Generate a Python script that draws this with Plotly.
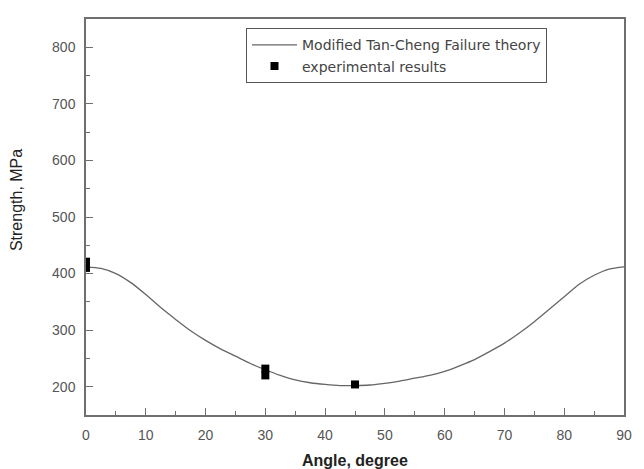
import plotly.graph_objects as go

# Modified Tan-Cheng failure theory curve
theory_angle = [0, 2.5, 5, 7.5, 10, 12.5, 15, 17.5, 20, 22.5, 25, 27.5, 30, 32.5, 35, 37.5, 40, 42.5, 45,
                47.5, 50, 52.5, 55, 57.5, 60, 62.5, 65, 67.5, 70, 72.5, 75, 77.5, 80, 82.5, 85, 87.5, 90]
theory_strength = [412, 409, 400, 384, 363, 340, 319, 299, 282, 267, 254, 241, 230, 220, 212, 207, 204, 202, 202,
                   203, 206, 210, 215, 220, 227, 237, 248, 262, 277, 295, 315, 337, 359, 381, 397, 408, 412]

# Experimental results
exp_angle = [0, 0, 30, 30, 45]
exp_strength = [410, 421, 220, 232, 204]

x_ticks = [0, 10, 20, 30, 40, 50, 60, 70, 80, 90]
y_ticks = [200, 300, 400, 500, 600, 700, 800]

FONT = "Liberation Sans, Arial, sans-serif"
AX = "#6f6f6f"

fig = go.Figure()
fig.add_trace(go.Scatter(
    x=theory_angle, y=theory_strength, mode="lines",
    line=dict(color="#666666", width=1.3, shape="spline", smoothing=0.8),
    name="Modified Tan-Cheng Failure theory",
))
fig.add_trace(go.Scatter(
    x=exp_angle, y=exp_strength, mode="markers",
    marker=dict(symbol="square", size=8, color="black", line=dict(width=0)),
    name="experimental results",
))

axis_common = dict(
    showgrid=False, zeroline=False, showline=True, linecolor=AX, linewidth=1.5,
    mirror=True, ticks="inside", tickcolor=AX, tickwidth=1.2, ticklen=7,
    tickfont=dict(family=FONT, size=14, color="#555555"),
)

fig.update_xaxes(range=[0, 90], tickvals=x_ticks, ticktext=[str(v) for v in x_ticks],
                 minor=dict(dtick=5, tick0=0, ticks="inside", ticklen=4, tickcolor=AX, tickwidth=1.2, showgrid=False),
                 ticklabelstandoff=6, **axis_common)
fig.update_yaxes(range=[150, 850], tickvals=y_ticks, ticktext=[str(v) for v in y_ticks],
                 minor=dict(dtick=50, tick0=0, ticks="inside", ticklen=4, tickcolor=AX, tickwidth=1.2, showgrid=False),
                 ticklabelstandoff=6, **axis_common)

fig.add_annotation(text="<b>Angle, degree</b>", xref="paper", yref="paper", x=0.5, y=-0.114,
                   showarrow=False, xanchor="center", yanchor="middle",
                   font=dict(family=FONT, size=16, color="#222222"))
fig.add_annotation(text="Strength, MPa", xref="paper", yref="paper", x=-0.128, y=0.543,
                   showarrow=False, xanchor="center", yanchor="middle", textangle=-90,
                   font=dict(family=FONT, size=16, color="#222222"))

fig.update_layout(
    width=644, height=469,
    margin=dict(l=86, r=14, t=19, b=54),
    paper_bgcolor="white", plot_bgcolor="white",
    showlegend=True,
    legend=dict(x=0.297, y=0.977, xanchor="left", yanchor="top",
                bgcolor="white", bordercolor="#555555", borderwidth=1.2,
                font=dict(family="DejaVu Sans, sans-serif", size=14, color="#444444"),
                tracegroupgap=0, itemwidth=45),
)

fig.write_html("out.html")
